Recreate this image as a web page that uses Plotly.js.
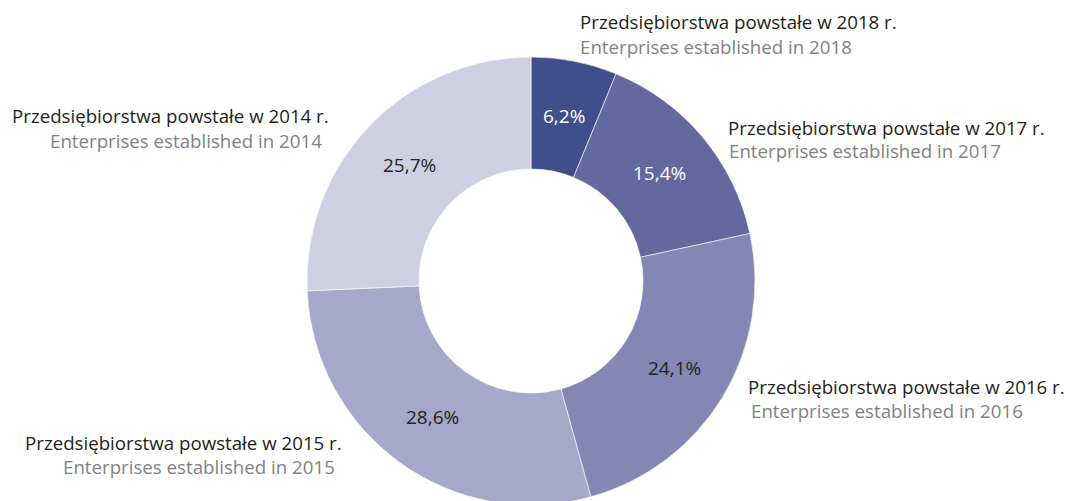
<!DOCTYPE html>
<html>
<head>
<meta charset="utf-8">
<script src="https://cdn.plot.ly/plotly-3.0.1.min.js"></script>
<style>
html,body{margin:0;padding:0;overflow:hidden;background:#fff;}
#chart{width:1067px;height:510px;}
</style>
</head>
<body>
<div id="chart"></div>
<script>
var years = ['2018', '2017', '2016', '2015', '2014'];
var shares = [6.2, 15.4, 24.1, 28.6, 25.7];
var labelsPl = ['Przedsiębiorstwa powstałe w 2018 r.', 'Przedsiębiorstwa powstałe w 2017 r.', 'Przedsiębiorstwa powstałe w 2016 r.', 'Przedsiębiorstwa powstałe w 2015 r.', 'Przedsiębiorstwa powstałe w 2014 r.'];
var labelsEn = ['Enterprises established in 2018', 'Enterprises established in 2017', 'Enterprises established in 2016', 'Enterprises established in 2015', 'Enterprises established in 2014'];
var sliceColors = ['#3f4f8c', '#63699e', '#8586b3', '#a6a7c9', '#cfcfe3'];
var textColors = ['#ffffff', '#ffffff', '#231f20', '#231f20', '#231f20'];

var W = 1067, H = 510;
var FONT = 'Open Sans, sans-serif';
function px(x) { return x / W; }
function py(y) { return (H - y) / H; }

// pie geometry (pixels)
var CX = 531, CY = 281, R = 224, HOLE = 0.5;

// label placement: [x, yLine1, yLine2, anchor, xLine2]
var labelPos = [
  [578, 22, 46, 'left', 578],
  [726, 127, 151, 'left', 727],
  [746, 386, 410, 'left', 749],
  [344, 442, 466, 'right', 337],
  [331, 116, 140, 'right', 324]
];

var annotations = [];
for (var i = 0; i < years.length; i++) {
  var p = labelPos[i];
  annotations.push({
    xref: 'paper', yref: 'paper', x: px(p[0]), y: py(p[1]),
    xanchor: p[3], yanchor: 'middle', showarrow: false,
    text: labelsPl[i], font: {family: FONT, size: 18.7, color: '#231f20'}
  });
  annotations.push({
    xref: 'paper', yref: 'paper', x: px(p[4]), y: py(p[2]),
    xanchor: p[3], yanchor: 'middle', showarrow: false,
    text: labelsEn[i], font: {family: FONT, size: 18.7, color: '#808285'}
  });
}

// percentage labels at the middle of each ring sector, derived from the shares
var total = shares.reduce(function (a, b) { return a + b; }, 0);
var cum = 0;
var rMid = R * (1 + HOLE) / 2;
for (var j = 0; j < shares.length; j++) {
  var a = (cum + shares[j] / 2) / total * 2 * Math.PI;
  cum += shares[j];
  annotations.push({
    xref: 'paper', yref: 'paper',
    x: px(CX + rMid * Math.sin(a)), y: py(CY - rMid * Math.cos(a)),
    xanchor: 'center', yanchor: 'middle', showarrow: false,
    text: shares[j].toFixed(1).replace('.', ',') + '%',
    font: {family: FONT, size: 19, color: textColors[j]}
  });
}

var trace = {
  type: 'pie',
  labels: years,
  values: shares,
  hole: HOLE,
  sort: false,
  direction: 'clockwise',
  rotation: 0,
  marker: {colors: sliceColors, line: {color: '#ffffff', width: 0.6}},
  textinfo: 'none',
  hoverinfo: 'none',
  showlegend: false,
  domain: {x: [px(CX - R), px(CX + R)], y: [py(CY + R), py(CY - R)]}
};

var layout = {
  width: W, height: H,
  margin: {l: 0, r: 0, t: 0, b: 0},
  paper_bgcolor: '#ffffff',
  separators: ',.',
  showlegend: false,
  annotations: annotations
};

Plotly.newPlot('chart', [trace], layout, {displayModeBar: false, staticPlot: true});
</script>
</body>
</html>
